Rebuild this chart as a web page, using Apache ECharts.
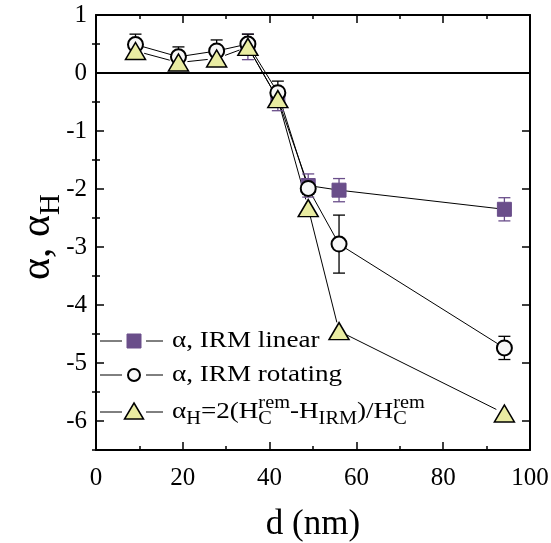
<!DOCTYPE html>
<html>
<head>
<meta charset="utf-8">
<script src="https://cdn.jsdelivr.net/npm/echarts@6/dist/echarts.min.js"></script>
<style>
  html, body { margin: 0; padding: 0; background: #ffffff; }
  #chart { width: 551px; height: 543px; }
</style>
</head>
<body>
<div id="chart"></div>
<script>
// Particle diameter d (nm) and the anisotropy ratios
const dLinear = [35, 41.9, 48.9, 56, 94.1];
const alphaLinear = [0.45, -0.45, -1.94, -2.02, -2.35];
const errLinear = [0.22, 0.2, 0.2, 0.2, 0.2];

const dRotating = [9.1, 19, 27.8, 35, 41.9, 48.9, 56, 94.1];
const alphaRotating = [0.49, 0.28, 0.38, 0.5, -0.34, -1.99, -2.95, -4.74];
const errRotating = [0.18, 0.17, 0.19, 0.17, 0.2, 0.1, 0.5, 0.2];

const dField = [9.1, 19, 27.8, 35, 41.9, 48.9, 56, 94.1];
const alphaField = [0.38, 0.18, 0.25, 0.45, -0.45, -2.33, -4.45, -5.87];

const yMajorTicks = [-6, -5, -4, -3, -2, -1, 0, 1];
const yMinorTicks = [-6.5, -5.5, -4.5, -3.5, -2.5, -1.5, -0.5, 0.5];

const FONT = '"Liberation Serif", "Times New Roman", serif';
const PURPLE = '#6a4e8a';
const YELLOW = '#e9eca2';
const CIRCLE_FILL = '#f7f7f7';

const pts = (xs, ys) => xs.map((x, i) => [x, ys[i]]);
const segs = (xs, ys) => xs.slice(1).map((x, i) => [xs[i], ys[i], x, ys[i + 1]]);
const bars = (xs, ys, es) => xs.map((x, i) => [x, ys[i] - es[i], ys[i] + es[i]]);

// connecting line segments that stop short of each symbol
function linkSeries(data, gap) {
  return {
    type: 'custom', xAxisIndex: 0, yAxisIndex: 0, silent: true, z: 2,
    data: data,
    renderItem: function (params, api) {
      const a = api.coord([api.value(0), api.value(1)]);
      const b = api.coord([api.value(2), api.value(3)]);
      const dx = b[0] - a[0], dy = b[1] - a[1];
      const len = Math.sqrt(dx * dx + dy * dy);
      if (len <= 2 * gap) return null;
      const ux = dx / len, uy = dy / len;
      return {
        type: 'line',
        shape: { x1: a[0] + ux * gap, y1: a[1] + uy * gap, x2: b[0] - ux * gap, y2: b[1] - uy * gap },
        style: { stroke: '#000', lineWidth: 1 }
      };
    }
  };
}

// vertical error bars with caps
function errorSeries(data, color) {
  return {
    type: 'custom', xAxisIndex: 0, yAxisIndex: 0, silent: true, z: 3,
    data: data,
    renderItem: function (params, api) {
      const lo = api.coord([api.value(0), api.value(1)]);
      const hi = api.coord([api.value(0), api.value(2)]);
      const c = 6;
      const st = { stroke: color, lineWidth: 1.3 };
      return {
        type: 'group',
        children: [
          { type: 'line', shape: { x1: lo[0], y1: lo[1], x2: hi[0], y2: hi[1] }, style: st },
          { type: 'line', shape: { x1: lo[0] - c, y1: lo[1], x2: lo[0] + c, y2: lo[1] }, style: st },
          { type: 'line', shape: { x1: hi[0] - c, y1: hi[1], x2: hi[0] + c, y2: hi[1] }, style: st }
        ]
      };
    }
  };
}

// text pieces laid out left to right, with sub/superscripts and stacked indices
const measureCtx = document.createElement('canvas').getContext('2d');
function textWidth(s, size) {
  measureCtx.font = size + 'px ' + FONT;
  return measureCtx.measureText(s).width;
}
function t(x, y, s, size) {
  return {
    type: 'text', x: x, y: y, silent: true,
    style: { text: s, fontSize: size, fontFamily: FONT, fill: '#000', align: 'left', verticalAlign: 'middle' }
  };
}
function layoutPieces(pieces, x0, y, size, subRatio) {
  const sub = Math.round(size * (subRatio || 0.7));
  const out = [];
  let x = x0;
  pieces.forEach(function (p) {
    if (p[0] === 'n') {
      out.push(t(x, y, p[1], size));
      x += textWidth(p[1], size);
    } else if (p[0] === 'sub') {
      out.push(t(x, y + size * 0.32, p[1], sub));
      x += textWidth(p[1], sub);
    } else if (p[0] === 'stack') {
      out.push(t(x, y - size * 0.36, p[1], sub));
      out.push(t(x, y + size * 0.32, p[2], sub));
      x += Math.max(textWidth(p[1], sub), textWidth(p[2], sub));
    }
  });
  return { children: out, width: x - x0 };
}

const legendRows = [
  { y: 341, symbol: 'square', pieces: [['n', 'α, IRM linear']] },
  { y: 375, symbol: 'circle', pieces: [['n', 'α, IRM rotating']] },
  { y: 412, symbol: 'triangle', pieces: [['n', 'α'], ['sub', 'H'], ['n', '=2(H'], ['stack', 'rem', 'C'], ['n', '-H'], ['sub', 'IRM'], ['n', ')/H'], ['stack', 'rem', 'C']] }
];

function legendSymbol(kind, cx, cy) {
  if (kind === 'square') {
    return { type: 'rect', shape: { x: cx - 7, y: cy - 7, width: 14, height: 14 }, style: { fill: PURPLE, stroke: PURPLE, lineWidth: 1 }, silent: true };
  }
  if (kind === 'circle') {
    return { type: 'circle', shape: { cx: cx, cy: cy, r: 6 }, style: { fill: CIRCLE_FILL, stroke: '#000', lineWidth: 2 }, silent: true };
  }
  return { type: 'polygon', shape: { points: [[cx, cy - 9], [cx + 9.5, cy + 7], [cx - 9.5, cy + 7]] }, style: { fill: YELLOW, stroke: '#000', lineWidth: 1.5 }, silent: true };
}

const graphics = [];
legendRows.forEach(function (row) {
  graphics.push({ type: 'line', shape: { x1: 100, y1: row.y, x2: 122, y2: row.y }, style: { stroke: '#000', lineWidth: 1 }, silent: true });
  graphics.push({ type: 'line', shape: { x1: 146, y1: row.y, x2: 163, y2: row.y }, style: { stroke: '#000', lineWidth: 1 }, silent: true });
  graphics.push(legendSymbol(row.symbol, 134, row.y));
  graphics.push({
    type: 'group', x: 172, y: row.y, scaleX: 1.13,
    children: layoutPieces(row.pieces, 0, 0, 24, 0.75).children
  });
});

// rotated y-axis title
const yTitle = layoutPieces([['n', 'α, α'], ['sub', 'H']], 0, 0, 42, 0.7);
yTitle.children.forEach(function (c) { c.x -= yTitle.width / 2; });
graphics.push({ type: 'group', x: 38, y: 237, rotation: Math.PI / 2, children: yTitle.children });

const axisLine = { show: true, onZero: false, lineStyle: { color: '#000', width: 2 } };
const majorTick = { show: true, inside: true, length: 8, lineStyle: { color: '#000', width: 1.5 } };
const minorTick = { show: true, splitNumber: 2, length: 4, lineStyle: { color: '#000', width: 1.5 } };
const labelStyle = { color: '#000', fontSize: 25, fontFamily: FONT };

function yAxisDef(position, ticks, len, withLabels, withLine) {
  return {
    type: 'value', min: -6.5, max: 1, position: position,
    axisLine: withLine ? axisLine : { show: false },
    axisTick: { show: true, inside: true, length: len, customValues: ticks, lineStyle: { color: '#000', width: 1.5 } },
    axisLabel: withLabels
      ? Object.assign({ show: true, customValues: yMajorTicks, margin: 9 }, labelStyle)
      : { show: false },
    splitLine: { show: false }
  };
}

const option = {
  animation: false,
  backgroundColor: '#ffffff',
  grid: { left: 96, top: 15, width: 434, height: 435, containLabel: false, outerBoundsMode: 'none' },
  xAxis: [
    {
      type: 'value', min: 0, max: 100, interval: 20, position: 'bottom',
      axisLine: axisLine, axisTick: majorTick, minorTick: minorTick,
      axisLabel: Object.assign({ margin: 16 }, labelStyle),
      splitLine: { show: false }, minorSplitLine: { show: false },
      name: 'd (nm)', nameLocation: 'middle', nameGap: 57,
      nameTextStyle: { color: '#000', fontSize: 35, fontFamily: FONT }
    },
    {
      type: 'value', min: 0, max: 100, interval: 20, position: 'top',
      axisLine: axisLine, axisTick: majorTick, minorTick: minorTick,
      axisLabel: { show: false }, splitLine: { show: false }, minorSplitLine: { show: false }
    }
  ],
  yAxis: [
    yAxisDef('left', yMajorTicks, 8, true, true),
    yAxisDef('left', yMinorTicks, 4, false, false),
    yAxisDef('right', yMajorTicks, 8, false, true),
    yAxisDef('right', yMinorTicks, 4, false, false)
  ],
  graphic: graphics,
  series: [
    Object.assign(linkSeries(segs(dLinear, alphaLinear), 7), {
      markLine: {
        silent: true, symbol: 'none', label: { show: false },
        lineStyle: { color: '#000', width: 2, type: 'solid' },
        data: [{ yAxis: 0 }]
      }
    }),
    linkSeries(segs(dRotating, alphaRotating), 7),
    linkSeries(segs(dField, alphaField), 9),
    errorSeries(bars(dLinear, alphaLinear, errLinear), PURPLE),
    errorSeries(bars(dRotating, alphaRotating, errRotating), '#000'),
    {
      type: 'scatter', name: 'α, IRM linear', data: pts(dLinear, alphaLinear),
      symbol: 'rect', symbolSize: 14, z: 4,
      itemStyle: { color: PURPLE, borderColor: PURPLE, borderWidth: 1, opacity: 1 }
    },
    {
      type: 'scatter', name: 'α, IRM rotating', data: pts(dRotating, alphaRotating),
      symbol: 'circle', symbolSize: 15, z: 5,
      itemStyle: { color: CIRCLE_FILL, borderColor: '#000', borderWidth: 2, opacity: 1 }
    },
    {
      type: 'scatter', name: 'αH', data: pts(dField, alphaField),
      symbol: 'triangle', symbolSize: [20, 17], z: 6,
      itemStyle: { color: YELLOW, borderColor: '#000', borderWidth: 1.5, opacity: 1 }
    }
  ]
};

const chart = echarts.init(document.getElementById('chart'), null, { renderer: 'canvas' });
chart.setOption(option);
</script>
</body>
</html>
